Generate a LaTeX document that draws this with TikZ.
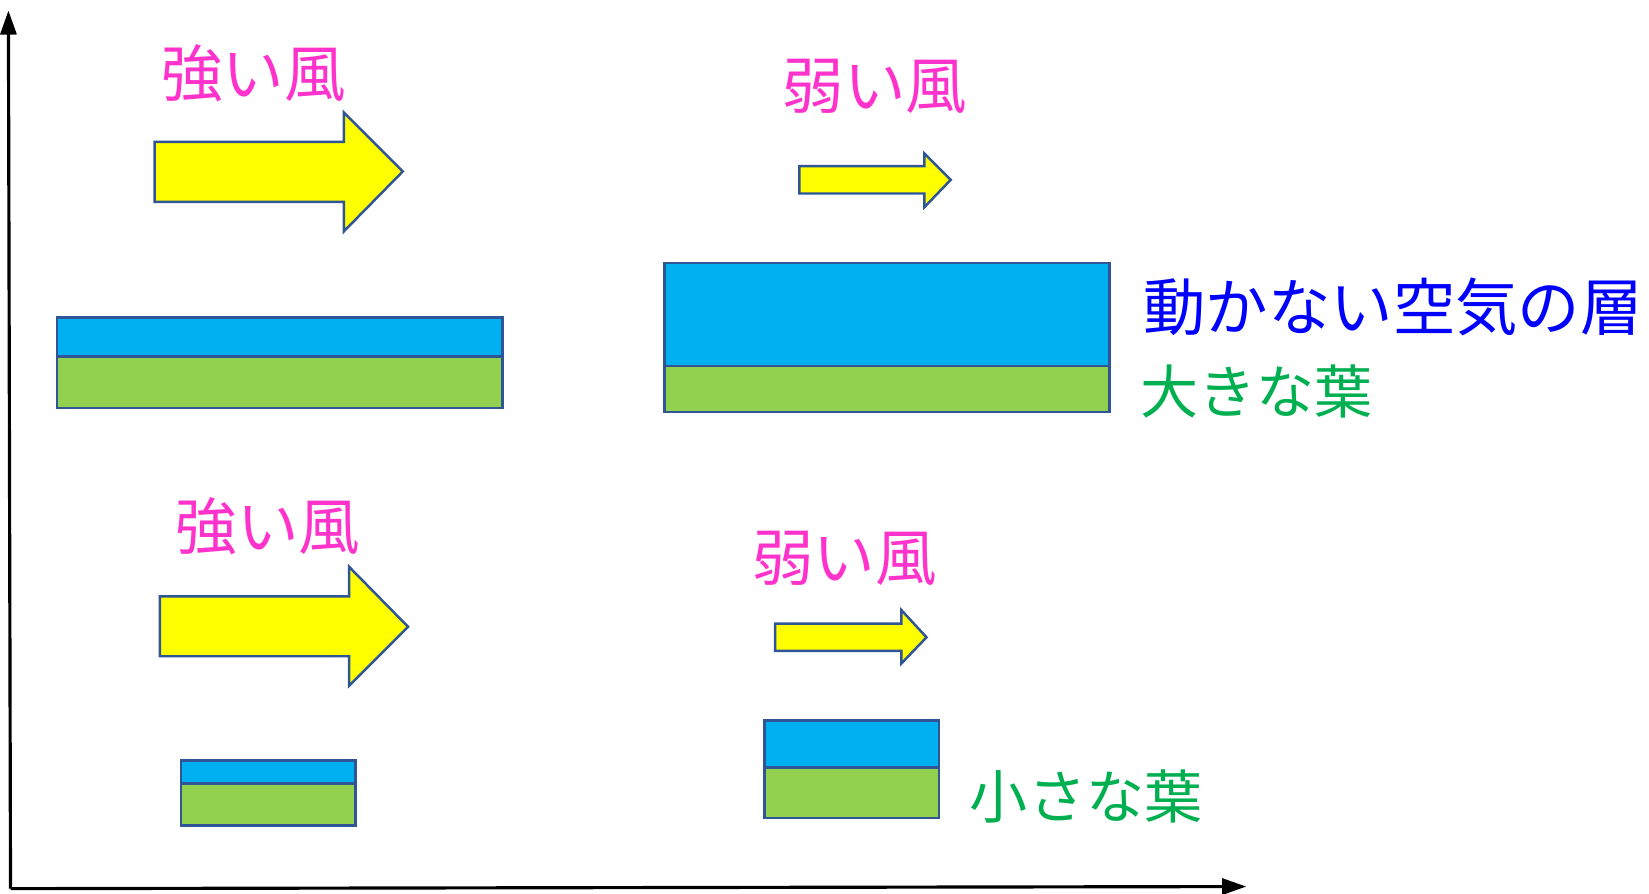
\documentclass[tikz,border=0pt]{standalone}
\usepackage{fontspec}
\newfontfamily\jpfont{Noto Sans CJK JP}
\usepackage{xcolor}
\usepackage{tikz}
\usetikzlibrary{arrows.meta, positioning, calc}

\definecolor{windpink}{HTML}{FF33CC}
\definecolor{windyellow}{HTML}{FFFF00}
\definecolor{airblue}{HTML}{00B0F0}
\definecolor{leafgreen}{HTML}{92D050}
\definecolor{edgeblue}{HTML}{2F5597}
\definecolor{labelblue}{HTML}{0000FF}
\definecolor{labelgreen}{HTML}{00B050}

\begin{document}
\begin{tikzpicture}[
    x=0.021033cm, y=-0.021033cm,
    axis/.style={line width=1.8pt, -{Triangle[length=4.8mm, width=3.2mm]}},
    wind/.style={draw=edgeblue, line width=1.4pt, fill=windyellow, line join=miter},
    air/.style={draw=edgeblue, line width=1.4pt, fill=airblue},
    leaf/.style={draw=edgeblue, line width=1.4pt, fill=leafgreen},
    windlabel/.style={text=windpink, font=\jpfont\fontsize{35pt}{40pt}\selectfont, inner sep=0pt},
    sidelabel/.style={font=\jpfont\fontsize{33pt}{40pt}\selectfont, inner sep=0pt, anchor=west}
]
    \useasboundingbox (0,0) rectangle (1568,850);

    % Axes
    \coordinate (origin) at (10,845);
    \coordinate (ytip) at (8,10);
    \coordinate (xtip) at (1185,843);
    \draw[axis] (origin) -- (ytip);
    \draw[axis] (origin) -- (xtip);

    % Strong wind, large leaf
    \node[windlabel] (strongtop) at (241,70) {強い風};
    \draw[wind] (147,135) -- (327,135) -- (327,107) -- (383,163) -- (327,220) -- (327,192) -- (147,192) -- cycle;
    \draw[leaf] (54,339) rectangle (478,388);
    \draw[air] (54,302) rectangle (478,339);

    % Weak wind, large leaf
    \node[windlabel] (weaktop) at (832,82) {弱い風};
    \draw[wind] (760,158) -- (879,158) -- (879,146) -- (904,171) -- (879,197) -- (879,184) -- (760,184) -- cycle;
    \draw[leaf] (632,348) rectangle (1055,392);
    \draw[air] (632,250) rectangle (1055,348);
    \node[sidelabel, text=labelblue, font=\jpfont\fontsize{35.5pt}{40pt}\selectfont] (still) at (1087,292) {動かない空気の層};
    \node[sidelabel, text=labelgreen] (bigleaf) at (1084,372) {大きな葉};

    % Strong wind, small leaf
    \node[windlabel] (strongbot) at (255,500) {強い風};
    \draw[wind] (152,567) -- (332,567) -- (332,539) -- (388,596) -- (332,652) -- (332,624) -- (152,624) -- cycle;
    \draw[leaf] (172,745) rectangle (338,785);
    \draw[air] (172,723) rectangle (338,745);

    % Weak wind, small leaf
    \node[windlabel] (weakbot) at (803,531) {弱い風};
    \draw[wind] (737,593) -- (857,593) -- (857,580) -- (881,606) -- (857,631) -- (857,619) -- (737,619) -- cycle;
    \draw[leaf] (727,730) rectangle (893,778);
    \draw[air] (727,685) rectangle (893,730);
    \node[sidelabel, text=labelgreen] (smallleaf) at (922,757) {小さな葉};
\end{tikzpicture}
\end{document}
